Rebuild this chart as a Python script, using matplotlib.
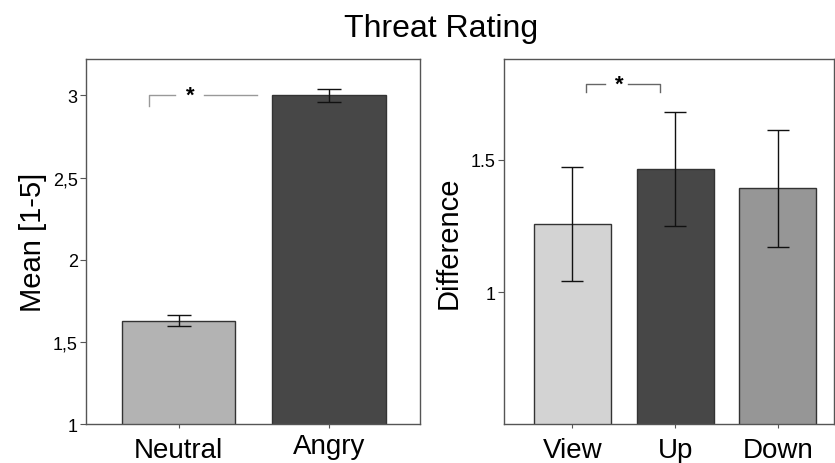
import matplotlib
matplotlib.use("Agg")
import matplotlib.pyplot as plt
from matplotlib.transforms import ScaledTranslation
import numpy as np

plt.rcParams['font.family'] = ['Liberation Sans', 'DejaVu Sans']

# left panel: threat rating by face
face_groups = ['Neutral', 'Angry']
face_means = [1.63, 3.00]
face_err = [0.035, 0.04]
face_colors = ['#b3b3b3', '#474747']
face_ticks = [1, 1.5, 2, 2.5, 3]
face_ticklabels = ['1', '1,5', '2', '2,5', '3']

# right panel: difference by condition
cond_groups = ['View', 'Up', 'Down']
cond_means = [1.258, 1.467, 1.392]
cond_err = [0.215, 0.216, 0.223]
cond_colors = ['#d3d3d3', '#474747', '#969696']
cond_ticks = [1, 1.5]
cond_ticklabels = ['1', '1.5']

edge = '#333333'
spine_col = '#555555'

fig = plt.figure(figsize=(8.35, 4.64), dpi=100)
ax1 = fig.add_axes([0.103, 0.084, 0.400, 0.787])
ax2 = fig.add_axes([0.6036, 0.084, 0.395, 0.787])


def style(ax):
    for s in ax.spines.values():
        s.set_color(spine_col)
        s.set_linewidth(1.0)
    ax.tick_params(axis='y', direction='out', length=4, width=0.8, color=spine_col,
                   labelsize=13, pad=2)
    ax.tick_params(axis='x', direction='out', length=3, width=0.8, color=spine_col,
                   labelsize=20, pad=6)


def bracket(ax, x0, x1, y, leg, star_x, gap, color, right_leg=True):
    ax.plot([x0, x0, star_x - gap[0]], [y - leg, y, y], color=color, lw=1.0)
    if right_leg:
        ax.plot([star_x + gap[1], x1, x1], [y, y, y - leg], color=color, lw=1.0)
    else:
        ax.plot([star_x + gap[1], x1], [y, y], color=color, lw=1.0)
    ax.text(star_x, y, '*', ha='center', va='center', fontsize=16, fontweight='bold')


# left
x = np.arange(len(face_groups))
ax1.bar(x, face_means, width=0.755, color=face_colors, edgecolor=edge, linewidth=1.0,
        yerr=face_err, error_kw=dict(ecolor='#111111', elinewidth=1.0, capsize=8.5, capthick=1.0),
        zorder=2)
ax1.set_ylim(1, 3.223)
ax1.set_xlim(-0.614, 1.603)
ax1.set_yticks(face_ticks)
ax1.set_yticklabels(face_ticklabels)
ax1.set_xticks(x)
ax1.set_xticklabels(face_groups)
ax1.set_ylabel('Mean [1-5]', fontsize=21, labelpad=4)
style(ax1)
# "Angry" sits a little higher than "Neutral" in the original
lab = ax1.get_xticklabels()[1]
lab.set_transform(lab.get_transform() + ScaledTranslation(0, 4 / 100, fig.dpi_scale_trans))
bracket(ax1, -0.194, 0.519, 3.0, 0.065, 0.076, (0.10, 0.09), '#999999', right_leg=False)

# right
x = np.arange(len(cond_groups))
ax2.bar(x, cond_means, width=0.75, color=cond_colors, edgecolor=edge, linewidth=1.0,
        yerr=cond_err, error_kw=dict(ecolor='#111111', elinewidth=1.0, capsize=8, capthick=1.0),
        zorder=2)
ax2.set_ylim(0.5, 1.883)
ax2.set_xlim(-0.667, 2.545)
ax2.set_yticks(cond_ticks)
ax2.set_yticklabels(cond_ticklabels)
ax2.set_xticks(x)
ax2.set_xticklabels(cond_groups)
ax2.set_ylabel('Difference', fontsize=21, labelpad=6)
style(ax2)
bracket(ax2, 0.128, 0.855, 1.788, 0.032, 0.453, (0.137, 0.09), '#666666')

fig.text(0.528, 0.920, 'Threat Rating', ha='center', va='baseline', fontsize=23)

fig.savefig('out.png', dpi=100)
